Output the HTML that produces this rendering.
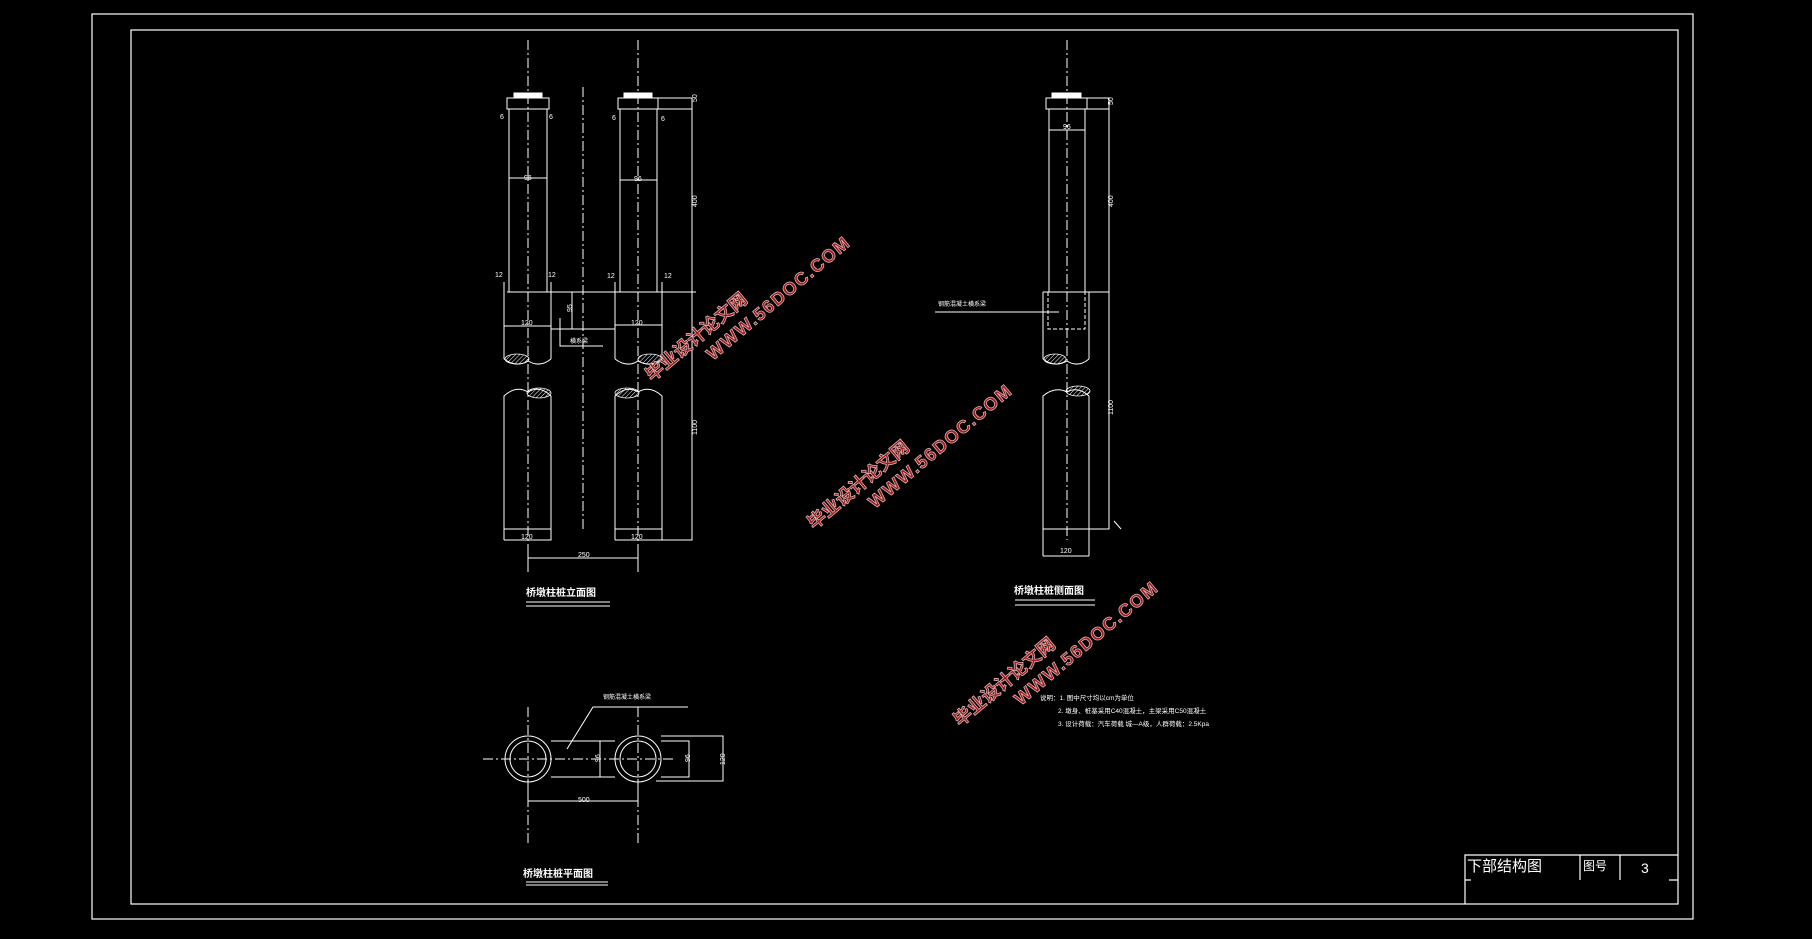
<!DOCTYPE html>
<html><head><meta charset="utf-8"><style>
html,body{margin:0;padding:0;background:#000;}
svg{display:block}
text{font-family:"Liberation Sans","Noto Sans CJK SC",sans-serif;fill:#fff}
.wm text{fill:#a01818;stroke:#d8b0b0;stroke-width:0.8;font-weight:bold}
</style></head><body>
<svg width="1812" height="939" viewBox="0 0 1812 939" xmlns="http://www.w3.org/2000/svg">
<defs>
<pattern id="h" width="3" height="3" patternUnits="userSpaceOnUse" patternTransform="rotate(45)"><line x1="0" y1="0" x2="0" y2="3" stroke="#fff" stroke-width="1"/></pattern>
</defs>
<g fill="none" stroke="#fff" stroke-width="1.2">
<rect x="92" y="14" width="1601" height="905"/>
<rect x="131" y="30" width="1547" height="874"/>
<path d="M1465 904V855H1678M1580 855V880M1620 855V880M1465 880H1471M1669 880H1678"/>
</g>
<text x="1467" y="871" font-size="15">下部结构图</text>
<text x="1583" y="870" font-size="12">图号</text>
<text x="1641" y="873" font-size="14">3</text>

<g fill="none" stroke="#fff" stroke-width="1">
<path d="M528 40V575M638 40V575M583 87V530" stroke-dasharray="10 3 2 3"/>
<rect x="514" y="93" width="28" height="5" fill="#fff"/>
<rect x="507" y="98" width="42" height="11"/>
<path d="M509 109V292M547 109V292M509 178H547"/>
<rect x="624" y="93" width="28" height="5" fill="#fff"/>
<rect x="618" y="98" width="74" height="11"/>
<path d="M658 98V109M620 109V292M657 109V292M620 180H657"/>
<path d="M507 292H696M692 109V540H662"/>
<path d="M504 282V359M551 282V359M504 326H551M504 359Q516 368 528 361Q540 368 551 359"/>
<path d="M615 282V359M662 282V359M615 325H662M615 359Q627 368 638 361Q650 368 662 359"/>
<path d="M504 540V396Q516 385 528 392Q540 385 551 396V540H504M504 529H551"/>
<path d="M615 540V396Q627 385 638 392Q650 385 662 396V540H615M615 529H662"/>
<path d="M551 329H615M572 292V329M560 318V346H603"/>
<path d="M528 558H638M528 551V564M638 551V564"/>
<path d="M526 602H610M526 606H610"/>
</g>
<g fill="url(#h)" stroke="#fff" stroke-width="0.8">
<ellipse cx="517" cy="359" rx="12" ry="5"/><ellipse cx="539" cy="393" rx="12" ry="5"/>
<ellipse cx="650" cy="359" rx="12" ry="5"/><ellipse cx="627" cy="393" rx="12" ry="5"/>
<ellipse cx="1055" cy="359" rx="11" ry="5"/><ellipse cx="1078" cy="391" rx="12" ry="5"/>
</g>
<g font-size="7">
<text x="500" y="119">6</text><text x="549" y="119">6</text>
<text x="612" y="120">6</text><text x="661" y="121">6</text>
<text x="524" y="180">96</text><text x="634" y="181">96</text>
<text x="495" y="277">12</text><text x="548" y="277">12</text>
<text x="607" y="278">12</text><text x="664" y="278">12</text>
<text x="521" y="325">120</text><text x="631" y="325">120</text>
<text x="521" y="539">120</text><text x="631" y="539">120</text>
<text x="578" y="557">250</text><text x="570" y="343" font-size="6">横系梁</text>
<text transform="translate(697 102) rotate(-90)">50</text>
<text transform="translate(697 207) rotate(-90)">400</text>
<text transform="translate(697 435) rotate(-90)">1100</text>
<text transform="translate(572 312) rotate(-90)">95</text>
</g>
<text x="526" y="596" font-size="10" font-weight="bold">桥墩柱桩立面图</text>

<g fill="none" stroke="#fff" stroke-width="1">
<path d="M1067 40V540" stroke-dasharray="10 3 2 3"/>
<rect x="1052" y="93" width="29" height="5" fill="#fff"/>
<rect x="1046" y="98" width="63" height="11"/>
<path d="M1087 98V109M1049 109V292M1085 109V292M1049 130H1085M1043 292H1109M1109 109V529H1089"/>
<path d="M1043 292V359M1089 292V359M1043 359Q1055 368 1067 361Q1078 368 1089 359"/>
<path d="M1048 292V329H1085V292" stroke-dasharray="4 2"/>
<path d="M935 312H1059M1114 521L1121 529"/>
<path d="M1043 556V396Q1055 386 1067 392Q1078 386 1089 396V556M1043 529H1089M1043 556H1089"/>
<path d="M1015 600H1095M1015 605H1095"/>
</g>
<g font-size="7">
<text x="1063" y="129">96</text><text x="1060" y="553">120</text>
<text transform="translate(1113 105) rotate(-90)">50</text>
<text transform="translate(1113 207) rotate(-90)">400</text>
<text transform="translate(1113 415) rotate(-90)">1100</text>
<text x="938" y="306" font-size="6">钢筋混凝土横系梁</text>
</g>
<text x="1014" y="594" font-size="10" font-weight="bold">桥墩柱桩侧面图</text>

<g fill="none" stroke="#fff" stroke-width="1">
<path d="M528 707V845M638 707V845M483 759H674" stroke-dasharray="10 3 2 3"/>
<circle cx="528" cy="759" r="23"/><circle cx="528" cy="759" r="18"/>
<circle cx="638" cy="759" r="23"/><circle cx="638" cy="759" r="18"/>
<path d="M551 741H615M551 777H615M661 741H689V777H661M600 741V777"/>
<path d="M661 736H723V781H656M528 801H638M528 780V806M638 780V806"/>
<path d="M567 749L593 707H688"/>
<path d="M526 882H608M526 885H608"/>
</g>
<g font-size="7">
<text x="603" y="699" font-size="6">钢筋混凝土横系梁</text>
<text x="578" y="802">500</text>
<text transform="translate(600 762) rotate(-90)">96</text>
<text transform="translate(690 762) rotate(-90)">96</text>
<text transform="translate(725 765) rotate(-90)">120</text>
</g>
<text x="523" y="877" font-size="10" font-weight="bold">桥墩柱桩平面图</text>

<g font-size="6.5">
<text x="1040" y="700">说明：1. 图中尺寸均以cm为单位</text>
<text x="1058" y="713">2. 墩身、桩基采用C40混凝土，主梁采用C50混凝土</text>
<text x="1058" y="726">3. 设计荷载：汽车荷载 城—A级，人群荷载：2.5Kpa</text>
</g>

<g class="wm">
<g transform="translate(652 382) rotate(-40)"><text font-size="18">毕业设计论文网</text><text x="60" y="23" font-size="18" letter-spacing="1.5">WWW.56DOC.COM</text></g>
<g transform="translate(814 530) rotate(-40)"><text font-size="18">毕业设计论文网</text><text x="60" y="23" font-size="18" letter-spacing="1.5">WWW.56DOC.COM</text></g>
<g transform="translate(960 727) rotate(-40)"><text font-size="18">毕业设计论文网</text><text x="60" y="23" font-size="18" letter-spacing="1.5">WWW.56DOC.COM</text></g>
</g>
</svg>
</body></html>
